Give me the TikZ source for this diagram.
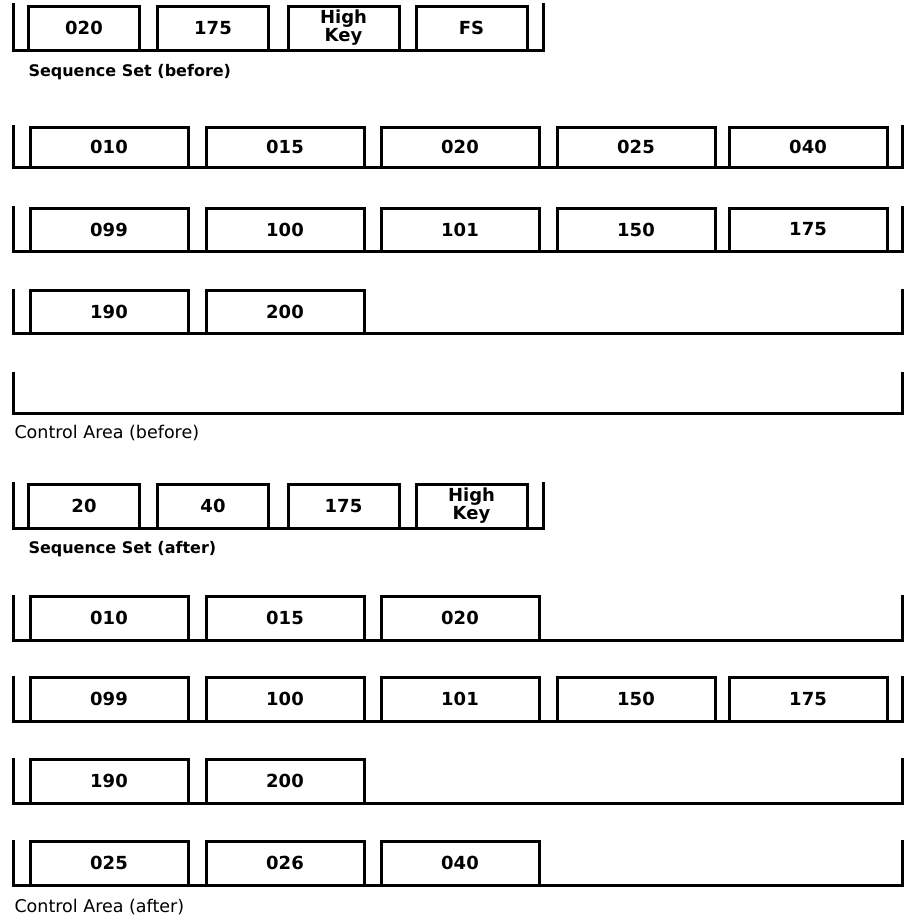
\documentclass[tikz,border=0pt]{standalone}
\usepackage{fontspec}
\setmainfont{DejaVu Sans}
\begin{document}
\begin{tikzpicture}[x=1pt,y=-1pt,line width=3pt,
  slot/.style={draw,rectangle,inner sep=0pt,font=\bfseries\fontsize{18}{16}\selectfont,align=center},
  ssbox/.style={slot,minimum width=111pt,minimum height=#1},
  cabox/.style={slot,minimum width=158pt,minimum height=#1},
  lbl/.style={anchor=west,inner sep=0pt,font=\fontsize{17.5}{20}\selectfont}]
\useasboundingbox (0,0) rectangle (909,918);
% ---------- Sequence Set (before)
\draw (13,3) -- (13,50) -- (543,50) -- (543,3);
\foreach \c/\t [count=\i] in {84/020,213/175,343.5/{High\\Key},471.5/FS}
  \node[ssbox=44pt] (sb\i) at (\c,28) {\t};
\node[lbl,font=\bfseries\fontsize{16}{20}\selectfont] (lsb) at (27,72) {Sequence Set (before)};
% ---------- Control Area (before)
\draw (13,125) -- (13,167) -- (902,167) -- (902,125);
\foreach \c/\t [count=\i] in {109/010,285/015,460/020,636/025,808/040}
  \node[cabox=40pt] (ca\i) at (\c,147) {\t};
\draw (13,206) -- (13,251) -- (902,251) -- (902,206);
\foreach \c/\t [count=\i] in {109/099,285/100,460/101,636/150,808/175}
  \node[cabox=43pt] (cb\i) at (\c,229.5) {\t};
\draw (13,289) -- (13,333) -- (902,333) -- (902,289);
\foreach \c/\t [count=\i] in {109/190,285/200}
  \node[cabox=43pt] (cc\i) at (\c,311.5) {\t};
\draw (13,372) -- (13,413) -- (902,413) -- (902,372);
\node[lbl] (lcb) at (13,433) {Control Area (before)};
% ---------- Sequence Set (after)
\draw (13,482) -- (13,528) -- (543,528) -- (543,482);
\foreach \c/\t [count=\i] in {84/20,213/40,343.5/175,471.5/{High\\Key}}
  \node[ssbox=44pt] (sa\i) at (\c,506) {\t};
\node[lbl,font=\bfseries\fontsize{16}{20}\selectfont] (lsa) at (27,549) {Sequence Set (after)};
% ---------- Control Area (after)
\draw (13,595) -- (13,640) -- (902,640) -- (902,595);
\foreach \c/\t [count=\i] in {109/010,285/015,460/020}
  \node[cabox=44pt] (da\i) at (\c,618) {\t};
\draw (13,676) -- (13,721) -- (902,721) -- (902,676);
\foreach \c/\t [count=\i] in {109/099,285/100,460/101,636/150,808/175}
  \node[cabox=44pt] (db\i) at (\c,699) {\t};
\draw (13,758) -- (13,803) -- (902,803) -- (902,758);
\foreach \c/\t [count=\i] in {109/190,285/200}
  \node[cabox=44pt] (dc\i) at (\c,781) {\t};
\draw (13,840) -- (13,885) -- (902,885) -- (902,840);
\foreach \c/\t [count=\i] in {109/025,285/026,460/040}
  \node[cabox=44pt] (dd\i) at (\c,863) {\t};
\node[lbl] (lca) at (13,907) {Control Area (after)};
\end{tikzpicture}
\end{document}
